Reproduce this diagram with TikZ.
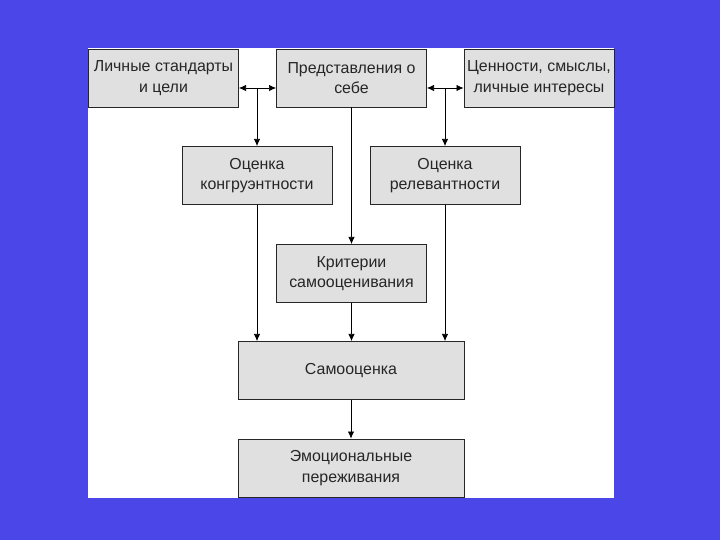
\documentclass[tikz,border=0pt]{standalone}
\usepackage{fontspec}
\setmainfont{Liberation Sans}
\usetikzlibrary{arrows.meta}
\definecolor{fon}{RGB}{75,70,232}
\definecolor{blokfill}{RGB}{224,224,224}
\tikzset{
  blok/.style={draw=black!85,line width=0.8pt,fill=blokfill,align=center,
    minimum width=4.5cm,minimum height=1.74cm,inner sep=1pt,
    font=\fontsize{13.6}{17.5}\selectfont,text=black!85},
  shirokij/.style={blok,minimum width=6.78cm},
  strel/.style={-{Latex[length=6pt,width=5.5pt]},line width=0.6pt}
}

\begin{document}
\begin{tikzpicture}[x=0.03cm,y=-0.03cm]
\useasboundingbox (0,0) rectangle (720,540);
\fill[fon] (0,0) rectangle (720,540);
\fill[white] (88,48) rectangle (614,498);
% verkhnij rjad
\node[blok] (b1) at (163.5,78) {Личные стандарты\\и цели};
\node[blok] (b2) at (351.5,78) {Представления о\\себе};
\node[blok] (b3) at (539,78) {Ценности, смыслы,\\личные интересы};
% ocenki
\node[blok] (b4) at (257,175.5) {Оценка\\конгруэнтности};
\node[blok] (b5) at (445,175.5) {Оценка\\релевантности};
\node[blok] (b6) at (351.5,273.5) {Критерии\\самооценивания};
% niz
\node[shirokij] (b7) at (351,370.5) {Самооценка};
\node[shirokij] (b8) at (351,468) {Эмоциональные\\переживания};
\coordinate (j1) at (257,88);
\coordinate (j2) at (445,88);
\draw[strel,{Latex[length=6pt,width=5.5pt]}-{Latex[length=6pt,width=5.5pt]}] (b1.east |- j1) -- (b2.west |- j1);
\draw[strel,{Latex[length=6pt,width=5.5pt]}-{Latex[length=6pt,width=5.5pt]}] (b2.east |- j2) -- (b3.west |- j2);
\draw[strel] (j1) -- (b4.north);
\draw[strel] (j2) -- (b5.north);
\draw[strel] (b2.south) -- (b6.north);
\foreach \a in {b4,b5,b6}
  {\draw[strel] (\a.south) -- (\a.south |- b7.north);}
\draw[strel] (b7.south) -- (b8.north);

\end{tikzpicture}
\end{document}
